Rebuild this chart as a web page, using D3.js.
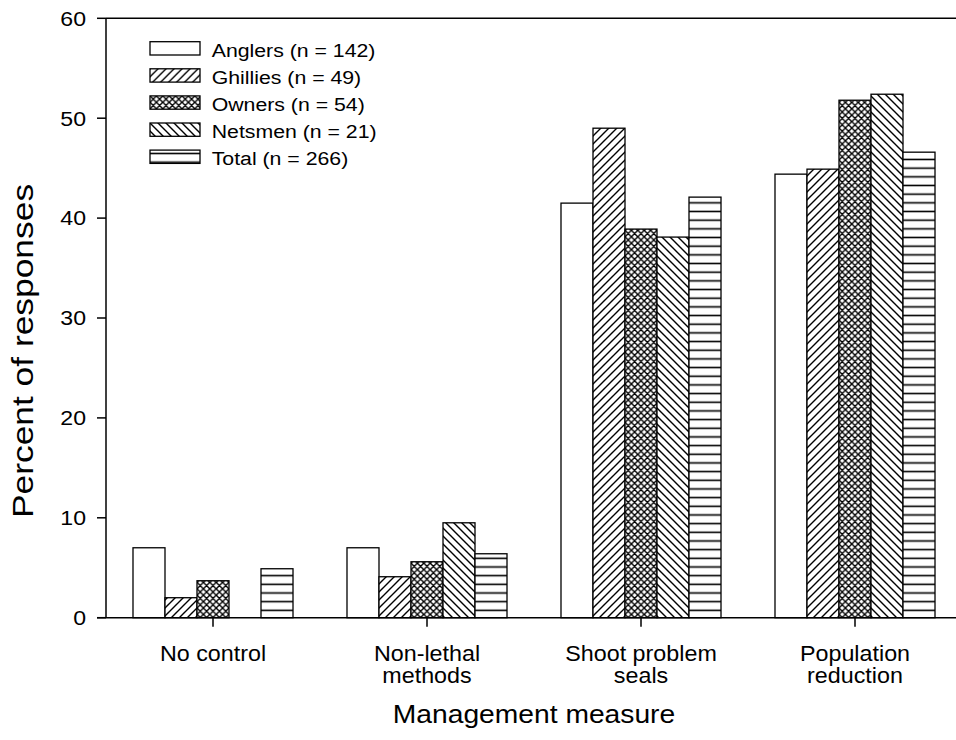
<!DOCTYPE html>
<html>
<head>
<meta charset="utf-8">
<script src="https://cdn.jsdelivr.net/npm/d3@7"></script>
<style>
  body { margin: 0; background: #fff; }
  svg { display: block; font-family: "Liberation Sans", Arial, sans-serif; }
</style>
</head>
<body>
<svg width="956" height="740"></svg>
<script>
// data
const categories = [["No control"], ["Non-lethal", "methods"], ["Shoot problem", "seals"], ["Population", "reduction"]];
const seriesNames = ["Anglers (n = 142)", "Ghillies (n = 49)", "Owners (n = 54)", "Netsmen (n = 21)", "Total (n = 266)"];
const anglers = [7.0, 7.0, 41.5, 44.4];
const ghillies = [2.0, 4.1, 49.0, 44.9];
const owners = [3.7, 5.6, 38.9, 51.8];
const netsmen = [0, 9.5, 38.1, 52.4];
const total = [4.9, 6.4, 42.1, 46.6];
const yTicks = [0, 10, 20, 30, 40, 50, 60];

const seriesValues = [anglers, ghillies, owners, netsmen, total];
const fills = ["#fff", "url(#hatchF)", "url(#cross)", "url(#hatchB)", "url(#horiz)"];

var svg = d3.select("svg");
const plotLeft = 106, plotRight = 962, plotTop = 18.3, plotBottom = 617.7;

var x0 = d3.scaleBand()
  .domain(d3.range(categories.length))
  .range([plotLeft, plotRight])
  .paddingInner(0.2523)
  .paddingOuter(0.12615);
var x1 = d3.scaleBand()
  .domain(d3.range(seriesNames.length))
  .range([0, x0.bandwidth()]);
var y = d3.scaleLinear().domain([0, 60]).range([plotBottom, plotTop]);

// fill patterns
var defs = svg.append("defs");
var pf = defs.append("pattern").attr("id", "hatchF").attr("patternUnits", "userSpaceOnUse")
  .attr("width", 8).attr("height", 8);
pf.append("rect").attr("width", 8).attr("height", 8).attr("fill", "#fff");
pf.append("path").attr("d", "M-2,2 L2,-2 M0,8 L8,0 M6,10 L10,6").attr("stroke", "#000").attr("stroke-width", 1.4);

var pb = defs.append("pattern").attr("id", "hatchB").attr("patternUnits", "userSpaceOnUse")
  .attr("width", 8).attr("height", 8);
pb.append("rect").attr("width", 8).attr("height", 8).attr("fill", "#fff");
pb.append("path").attr("d", "M-2,6 L2,10 M0,0 L8,8 M6,-2 L10,2").attr("stroke", "#000").attr("stroke-width", 1.4);

var pc = defs.append("pattern").attr("id", "cross").attr("patternUnits", "userSpaceOnUse")
  .attr("width", 6.4).attr("height", 6.4);
pc.append("rect").attr("width", 6.4).attr("height", 6.4).attr("fill", "#fff");
pc.append("path").attr("d", "M-1,1 L1,-1 M0,6.4 L6.4,0 M5.4,7.4 L7.4,5.4 M-1,5.4 L1,7.4 M0,0 L6.4,6.4 M5.4,-1 L7.4,1")
  .attr("stroke", "#000").attr("stroke-width", 1.4);

var ph = defs.append("pattern").attr("id", "horiz").attr("patternUnits", "userSpaceOnUse")
  .attr("width", 8).attr("height", 8.67).attr("y", plotBottom - 3);
ph.append("rect").attr("width", 8).attr("height", 8.67).attr("fill", "#fff");
ph.append("line").attr("x1", 0).attr("x2", 8).attr("y1", 4.3).attr("y2", 4.3).attr("stroke", "#000").attr("stroke-width", 1.6);

// bars
var groups = svg.selectAll(".group")
  .data(categories)
  .enter().append("g")
  .attr("class", "group")
  .attr("transform", (d, i) => "translate(" + x0(i) + ",0)");

groups.selectAll("rect")
  .data((d, i) => seriesValues.map((s, j) => ({ s: j, v: s[i] })).filter(d => d.v > 0))
  .enter().append("rect")
  .attr("x", d => x1(d.s))
  .attr("width", x1.bandwidth())
  .attr("y", d => y(d.v))
  .attr("height", d => plotBottom - y(d.v))
  .attr("fill", d => fills[d.s])
  .attr("stroke", "#000")
  .attr("stroke-width", 1.3);

// axes frame
svg.append("line").attr("x1", plotLeft).attr("x2", plotRight).attr("y1", plotTop).attr("y2", plotTop)
  .attr("stroke", "#000").attr("stroke-width", 1.5);
svg.append("line").attr("x1", plotLeft - 9).attr("x2", plotRight).attr("y1", plotBottom).attr("y2", plotBottom)
  .attr("stroke", "#000").attr("stroke-width", 1.5);
svg.append("line").attr("x1", plotLeft).attr("x2", plotLeft).attr("y1", plotTop).attr("y2", plotBottom)
  .attr("stroke", "#000").attr("stroke-width", 1.5);

// y ticks
svg.selectAll(".ytick")
  .data(yTicks)
  .enter().append("line")
  .attr("x1", plotLeft - 9).attr("x2", plotLeft)
  .attr("y1", d => y(d)).attr("y2", d => y(d))
  .attr("stroke", "#000").attr("stroke-width", 1.5);

svg.selectAll(".ylab")
  .data(yTicks)
  .enter().append("text")
  .attr("transform", d => "translate(86," + y(d) + ") scale(1.1,1)")
  .attr("dy", "0.35em")
  .attr("text-anchor", "end")
  .attr("font-size", 21)
  .text(d => d);

// x ticks and category labels
svg.selectAll(".xtick")
  .data(categories)
  .enter().append("line")
  .attr("x1", (d, i) => x0(i) + x0.bandwidth() / 2)
  .attr("x2", (d, i) => x0(i) + x0.bandwidth() / 2)
  .attr("y1", plotBottom).attr("y2", plotBottom + 9)
  .attr("stroke", "#000").attr("stroke-width", 1.5);

svg.selectAll(".xlab")
  .data(categories)
  .enter().append("text")
  .attr("transform", (d, i) => "translate(" + (x0(i) + x0.bandwidth() / 2) + ",661) scale(1.06,1)")
  .attr("text-anchor", "middle")
  .attr("font-size", 22)
  .each(function(lines) {
    d3.select(this).selectAll("tspan")
      .data(lines)
      .enter().append("tspan")
      .attr("x", 0)
      .attr("y", (d, k) => k * 22.3)
      .text(d => d);
  });

// axis titles
svg.append("text")
  .attr("transform", "translate(" + (plotLeft + plotRight) / 2 + ",722.7) scale(1.13,1)")
  .attr("text-anchor", "middle")
  .attr("font-size", 25)
  .text("Management measure");

svg.append("text")
  .attr("transform", "translate(33,351) rotate(-90) scale(1.22,1)")
  .attr("text-anchor", "middle")
  .attr("font-size", 29)
  .text("Percent of responses");

// legend
var legend = svg.selectAll(".legend")
  .data(seriesNames)
  .enter().append("g")
  .attr("transform", (d, i) => "translate(150," + (41.7 + i * 27.1) + ")");

legend.append("rect")
  .attr("width", 50).attr("height", 13.3)
  .attr("fill", (d, i) => fills[i])
  .attr("stroke", "#000").attr("stroke-width", 1.3);

legend.append("text")
  .attr("transform", "translate(61.7,14.8) scale(1.12,1)")
  .attr("font-size", 19)
  .text(d => d);
</script>
</body>
</html>
